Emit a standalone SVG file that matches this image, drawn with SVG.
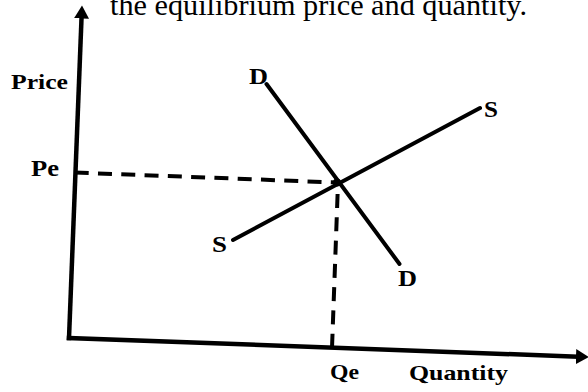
<svg xmlns="http://www.w3.org/2000/svg" width="588" height="392" viewBox="0 0 588 392">
  <defs>
    <marker id="arrow" markerUnits="userSpaceOnUse" markerWidth="14" markerHeight="16" refX="0" refY="7.5" orient="auto">
      <path d="M0,0 L13,7.5 L0,15 z" fill="#000"/>
    </marker>
    <style>
      .title { font-family: "Liberation Serif", "Times New Roman", serif; font-size: 29px; fill: #000; }
      .lbl { font-family: "Liberation Serif", "Times New Roman", serif; font-weight: bold; font-size: 23px; fill: #000; }
      .axis { stroke: #000; stroke-width: 4.5; fill: none; stroke-linecap: square; }
      .curve { stroke: #000; stroke-width: 4; fill: none; stroke-linecap: round; }
      .dash { stroke: #000; stroke-width: 4; fill: none; stroke-dasharray: 14 9.3; }
    </style>
  </defs>
  <rect width="588" height="392" fill="#fff"/>

  <g id="title">
    <text class="title" x="110" y="15" textLength="417" lengthAdjust="spacingAndGlyphs">the equilibrium price and quantity.</text>
  </g>

  <g id="connectors">
    <g id="axes">
      <line class="axis" x1="69" y1="338" x2="81.5" y2="18.5" marker-end="url(#arrow)"/>
      <line class="axis" x1="69" y1="338" x2="576" y2="356.6" marker-end="url(#arrow)"/>
    </g>
    <g id="demand">
      <line class="curve" x1="266.5" y1="84" x2="399.5" y2="264"/>
    </g>
    <g id="supply">
      <line class="curve" x1="233" y1="240" x2="480" y2="108"/>
    </g>
    <g id="equilibrium-guides">
      <line class="dash" x1="74.7" y1="172.5" x2="337" y2="182.5"/>
      <line class="dash" x1="337.6" y1="194" x2="332" y2="348"/>
    </g>
  </g>

  <g id="equilibrium">
    <circle cx="337" cy="182.5" r="4" fill="#000"/>
  </g>

  <g id="labels">
    <text id="price-label" class="lbl" x="11" y="89" font-size="20" textLength="57" lengthAdjust="spacingAndGlyphs" style="font-size:20px">Price</text>
    <text id="pe-label" class="lbl" x="31" y="176" textLength="28" lengthAdjust="spacingAndGlyphs">Pe</text>
    <text id="d-top" class="lbl" x="249" y="84" textLength="19" lengthAdjust="spacingAndGlyphs">D</text>
    <text id="s-top" class="lbl" x="484" y="117" textLength="14" lengthAdjust="spacingAndGlyphs">S</text>
    <text id="s-bottom" class="lbl" x="212" y="252" textLength="15" lengthAdjust="spacingAndGlyphs">S</text>
    <text id="d-bottom" class="lbl" x="398" y="286" textLength="19" lengthAdjust="spacingAndGlyphs">D</text>
    <text id="qe-label" class="lbl" x="330" y="379" style="font-size:21px" textLength="29" lengthAdjust="spacingAndGlyphs">Qe</text>
    <text id="quantity-label" class="lbl" x="409" y="380" style="font-size:21px" textLength="99" lengthAdjust="spacingAndGlyphs">Quantity</text>
  </g>
</svg>
